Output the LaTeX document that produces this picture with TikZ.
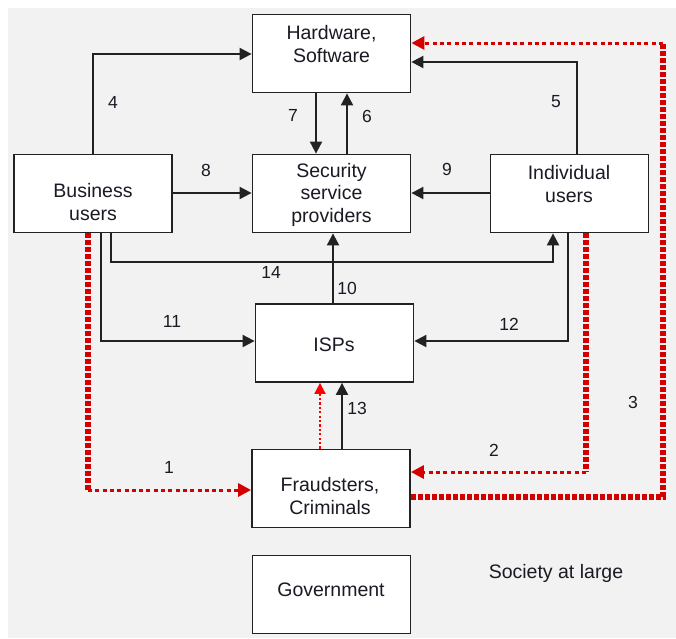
\documentclass[tikz,border=0pt]{standalone}
\usepackage{fontspec}
\setmainfont{Liberation Sans}
\usetikzlibrary{arrows.meta}
\definecolor{bgcol}{HTML}{F2F2F2}
\definecolor{ink}{HTML}{1A1A24}
\definecolor{fraudred}{HTML}{D40000}
\definecolor{brightred}{HTML}{FF0000}
\definecolor{linegray}{HTML}{222222}

\begin{document}
\begin{tikzpicture}[x=1pt,y=-1pt,
  box/.style={draw=linegray, line width=1.8pt, fill=white,
    minimum width=158pt, minimum height=78pt, inner sep=0pt},
  boxtext/.style={font=\fontsize{19.5}{22.5}\selectfont, text=ink,
    align=center, inner sep=0pt, anchor=base},
  numlabel/.style={font=\fontsize{17.5}{18}\selectfont, text=ink, inner sep=0pt},
  conn/.style={draw=linegray, line width=2pt,
    -{Triangle[length=12pt,width=12pt]}},
  redthick/.style={draw=fraudred, line width=5.5pt, dash pattern=on 5pt off 2pt},
  redthin/.style={draw=fraudred, line width=3pt, dash pattern=on 4pt off 3.3pt,
    -{Triangle[length=13pt,width=13pt,fill=fraudred]}},
  redfaint/.style={draw=brightred, line width=1.8pt, dash pattern=on 2.2pt off 2.2pt,
    -{Triangle[length=11pt,width=11pt,fill=brightred]}},
]
% canvas and grey backdrop
\useasboundingbox (0,0) rectangle (676,638);
\fill[white] (0,0) rectangle (676,638);
\fill[bgcol] (8,8) rectangle (676,638);

% actors
\node[box] (hw)  at (331.5,53.5)  {};
\node[box] (ss)  at (331.5,193.5) {};
\node[box] (bu)  at (93,193.5)    {};
\node[box] (iu)  at (569.5,193.5) {};
\node[box] (isp) at (334.5,343)   {};
\node[box] (fc)  at (331,488.5)   {};
\node[box] (gov) at (331.5,594.5) {};

% captions (anchored at the baseline of their last line)
\node[boxtext] (hwt)  at (331.5,62) {Hardware,\\Software};
\node[boxtext] (sst)  at (331.5,222) {Security\\service\\providers};
\node[boxtext] (but)  at (93,220)   {Business\\users};
\node[boxtext] (iut)  at (569,202)  {Individual\\users};
\node[boxtext] (ispt) at (334,351)  {ISPs};
\node[boxtext] (fct)  at (330,514)  {Fraudsters,\\Criminals};
\node[boxtext] (govt) at (331,596)  {Government};
\node[boxtext] (soc)  at (556,578)  {Society at large};

% helper rows and turning points
\coordinate (row14) at (0,262);
\coordinate (c1) at (88,490);
\coordinate (c2) at (586,472);
\coordinate (c3b) at (663,497);
\coordinate (c3t) at (663,43);

% black flows
\draw[conn] (bu.north) |- ([yshift=-0.5pt]hw.west);
\draw[conn] ([xshift=7.5pt]iu.north) |- ([yshift=-8.5pt]hw.east);
\draw[conn] ([xshift=-15.5pt]hw.south) -- ([xshift=-15.5pt]ss.north);
\draw[conn] ([xshift=15.5pt]ss.north) -- ([xshift=15.5pt]hw.south);
\draw[conn] ([yshift=0.5pt]bu.east) -- ([yshift=0.5pt]ss.west);
\draw[conn] ([yshift=0.5pt]iu.west) -- ([yshift=0.5pt]ss.east);
\draw[conn] ([xshift=18pt]bu.south) -- ([xshift=18pt]bu.south |- row14)
  -| ([xshift=-16.5pt]iu.south);
\draw[conn] ([xshift=8pt]bu.south) |- ([yshift=2pt]isp.west);
\draw[conn] ([xshift=-1.5pt]iu.south) |- ([yshift=2pt]isp.east);
\draw[conn] ([xshift=-1.5pt]isp.north) -- ([xshift=1.5pt]ss.south);
\draw[conn] ([xshift=11pt]fc.north) -- ([xshift=7.5pt]isp.south);

% fraud flows
\draw[redfaint] ([xshift=-11pt]fc.north) -- ([xshift=-14.5pt]isp.south);
\draw[redthick] ([xshift=-5pt]bu.south) -- (c1);
\draw[redthin] (c1) -- (c1 -| fc.west);
\draw[redthick] ([xshift=16.5pt]iu.south) -- (c2);
\draw[redthin] (c2) -- (c2 -| fc.east);
\draw[redthick] (c3b -| fc.east) -- (c3b) -- (c3t);
\draw[redthin] (c3t) -- (c3t -| hw.east);

% flow numbers
\node[numlabel] (n1)  at (169,467) {1};
\node[numlabel] (n2)  at (494,450) {2};
\node[numlabel] (n3)  at (633,402) {3};
\node[numlabel] (n4)  at (113,102) {4};
\node[numlabel] (n5)  at (556,102) {5};
\node[numlabel] (n6)  at (367,116) {6};
\node[numlabel] (n7)  at (293,115) {7};
\node[numlabel] (n8)  at (206,170) {8};
\node[numlabel] (n9)  at (447,169) {9};
\node[numlabel] (n10) at (347,288) {10};
\node[numlabel] (n11) at (172,321) {11};
\node[numlabel] (n12) at (509,324) {12};
\node[numlabel] (n13) at (357,408) {13};
\node[numlabel] (n14) at (271,272) {14};
\end{tikzpicture}
\end{document}
